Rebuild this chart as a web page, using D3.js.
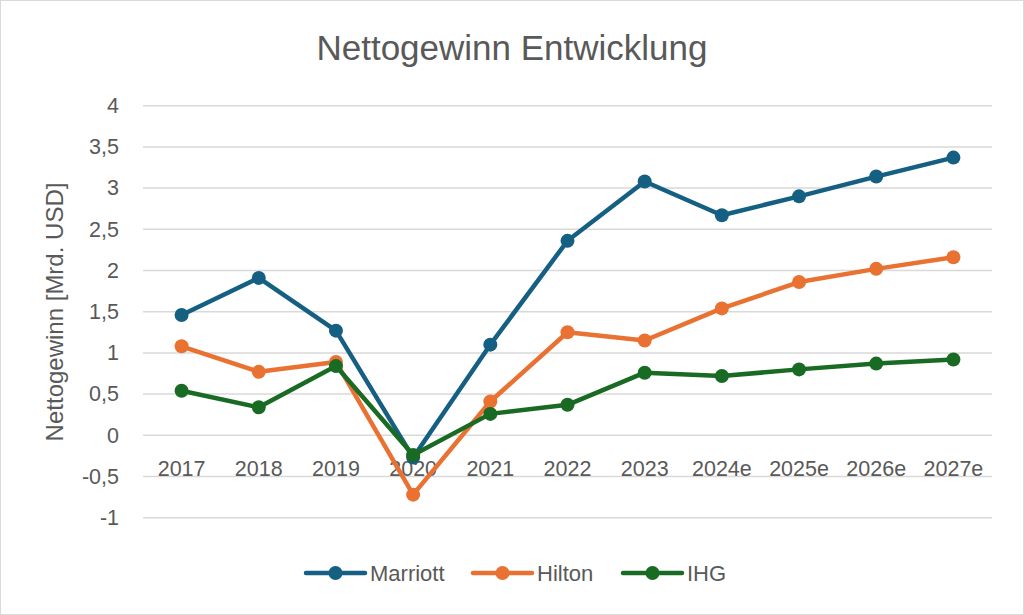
<!DOCTYPE html>
<html><head><meta charset="utf-8">
<script src="https://cdn.jsdelivr.net/npm/d3@7"></script>
<style>body{margin:0;background:#fff}svg{display:block}</style>
</head><body>
<svg id="c" width="1024" height="615"></svg>
<script>
const categories = ["2017","2018","2019","2020","2021","2022","2023","2024e","2025e","2026e","2027e"];
const marriott = [1.46, 1.91, 1.27, -0.27, 1.10, 2.36, 3.08, 2.67, 2.90, 3.14, 3.37];
const hilton   = [1.08, 0.77, 0.89, -0.72, 0.41, 1.25, 1.15, 1.54, 1.86, 2.02, 2.16];
const ihg      = [0.54, 0.34, 0.84, -0.24, 0.26, 0.37, 0.76, 0.72, 0.80, 0.87, 0.92];
const yTicks   = [-1, -0.5, 0, 0.5, 1, 1.5, 2, 2.5, 3, 3.5, 4];
const seriesNames = ["Marriott","Hilton","IHG"];
const seriesColors = ["#156082","#E97132","#196B24"];
const series = [marriott, hilton, ihg];

const svg = d3.select("#c");
const font = "Liberation Sans, Arial, sans-serif";
const txt = "#595959";

svg.append("rect").attr("x",0.5).attr("y",0.5).attr("width",1023).attr("height",614)
  .attr("fill","#fff").attr("stroke","#d9d9d9").attr("stroke-width",1);

const x = d3.scaleBand().domain(categories).range([143, 992]);
const y = d3.scaleLinear().domain([-1, 4]).range([517.7, 105.7]);

// gridlines
svg.append("g").selectAll("line").data(yTicks).join("line")
  .attr("x1",143).attr("x2",992)
  .attr("y1",d=>y(d)).attr("y2",d=>y(d))
  .attr("stroke","#d9d9d9").attr("stroke-width",1.5);

const fmt = d => String(d).replace(".", ",");
// y axis labels
const yAxis = d3.axisLeft(y).tickValues(yTicks).tickFormat(fmt).tickSize(0).tickPadding(0);
const ya = svg.append("g").attr("transform","translate(119,0)").call(yAxis);
ya.select(".domain").remove();
ya.selectAll("text").attr("font-family",font).attr("font-size",21.5).attr("fill",txt);

// x axis labels at zero line
const xAxis = d3.axisBottom(x).tickSize(0).tickPadding(0);
const xa = svg.append("g").attr("transform",`translate(0,${y(0)+40.5})`).call(xAxis);
xa.select(".domain").remove();
xa.selectAll("text").attr("font-family",font).attr("font-size",21.5).attr("fill",txt).attr("dy","0");

// lines
const line = d3.line().x((d,i)=>x(categories[i])+x.bandwidth()/2).y(d=>y(d));
series.forEach((s,k)=>{
  const g = svg.append("g");
  g.append("path").attr("d",line(s)).attr("fill","none")
    .attr("stroke",seriesColors[k]).attr("stroke-width",4.5).attr("stroke-linejoin","round");
  g.selectAll("circle").data(s).join("circle")
    .attr("cx",(d,i)=>x(categories[i])+x.bandwidth()/2).attr("cy",d=>y(d))
    .attr("r",7).attr("fill",seriesColors[k]);
});

// title
svg.append("text").attr("x",512).attr("y",60).attr("text-anchor","middle")
  .attr("font-family",font).attr("font-size",35)
  .attr("fill",txt).text("Nettogewinn Entwicklung");

// y axis title
svg.append("text").attr("transform","translate(63,312) rotate(-90)").attr("text-anchor","middle")
  .attr("font-family",font).attr("font-size",24).attr("fill",txt).text("Nettogewinn [Mrd. USD]");

// legend
const legX = [306, 473, 623];
seriesNames.forEach((n,k)=>{
  const g = svg.append("g").attr("transform",`translate(${legX[k]},573)`);
  g.append("line").attr("x1",0).attr("x2",59).attr("stroke",seriesColors[k]).attr("stroke-width",4.5).attr("stroke-linecap","round");
  g.append("circle").attr("cx",29.5).attr("r",7).attr("fill",seriesColors[k]);
  g.append("text").attr("x",64).attr("y",8).attr("font-family",font).attr("font-size",22).attr("fill",txt).text(n);
});
</script>
</body></html>
